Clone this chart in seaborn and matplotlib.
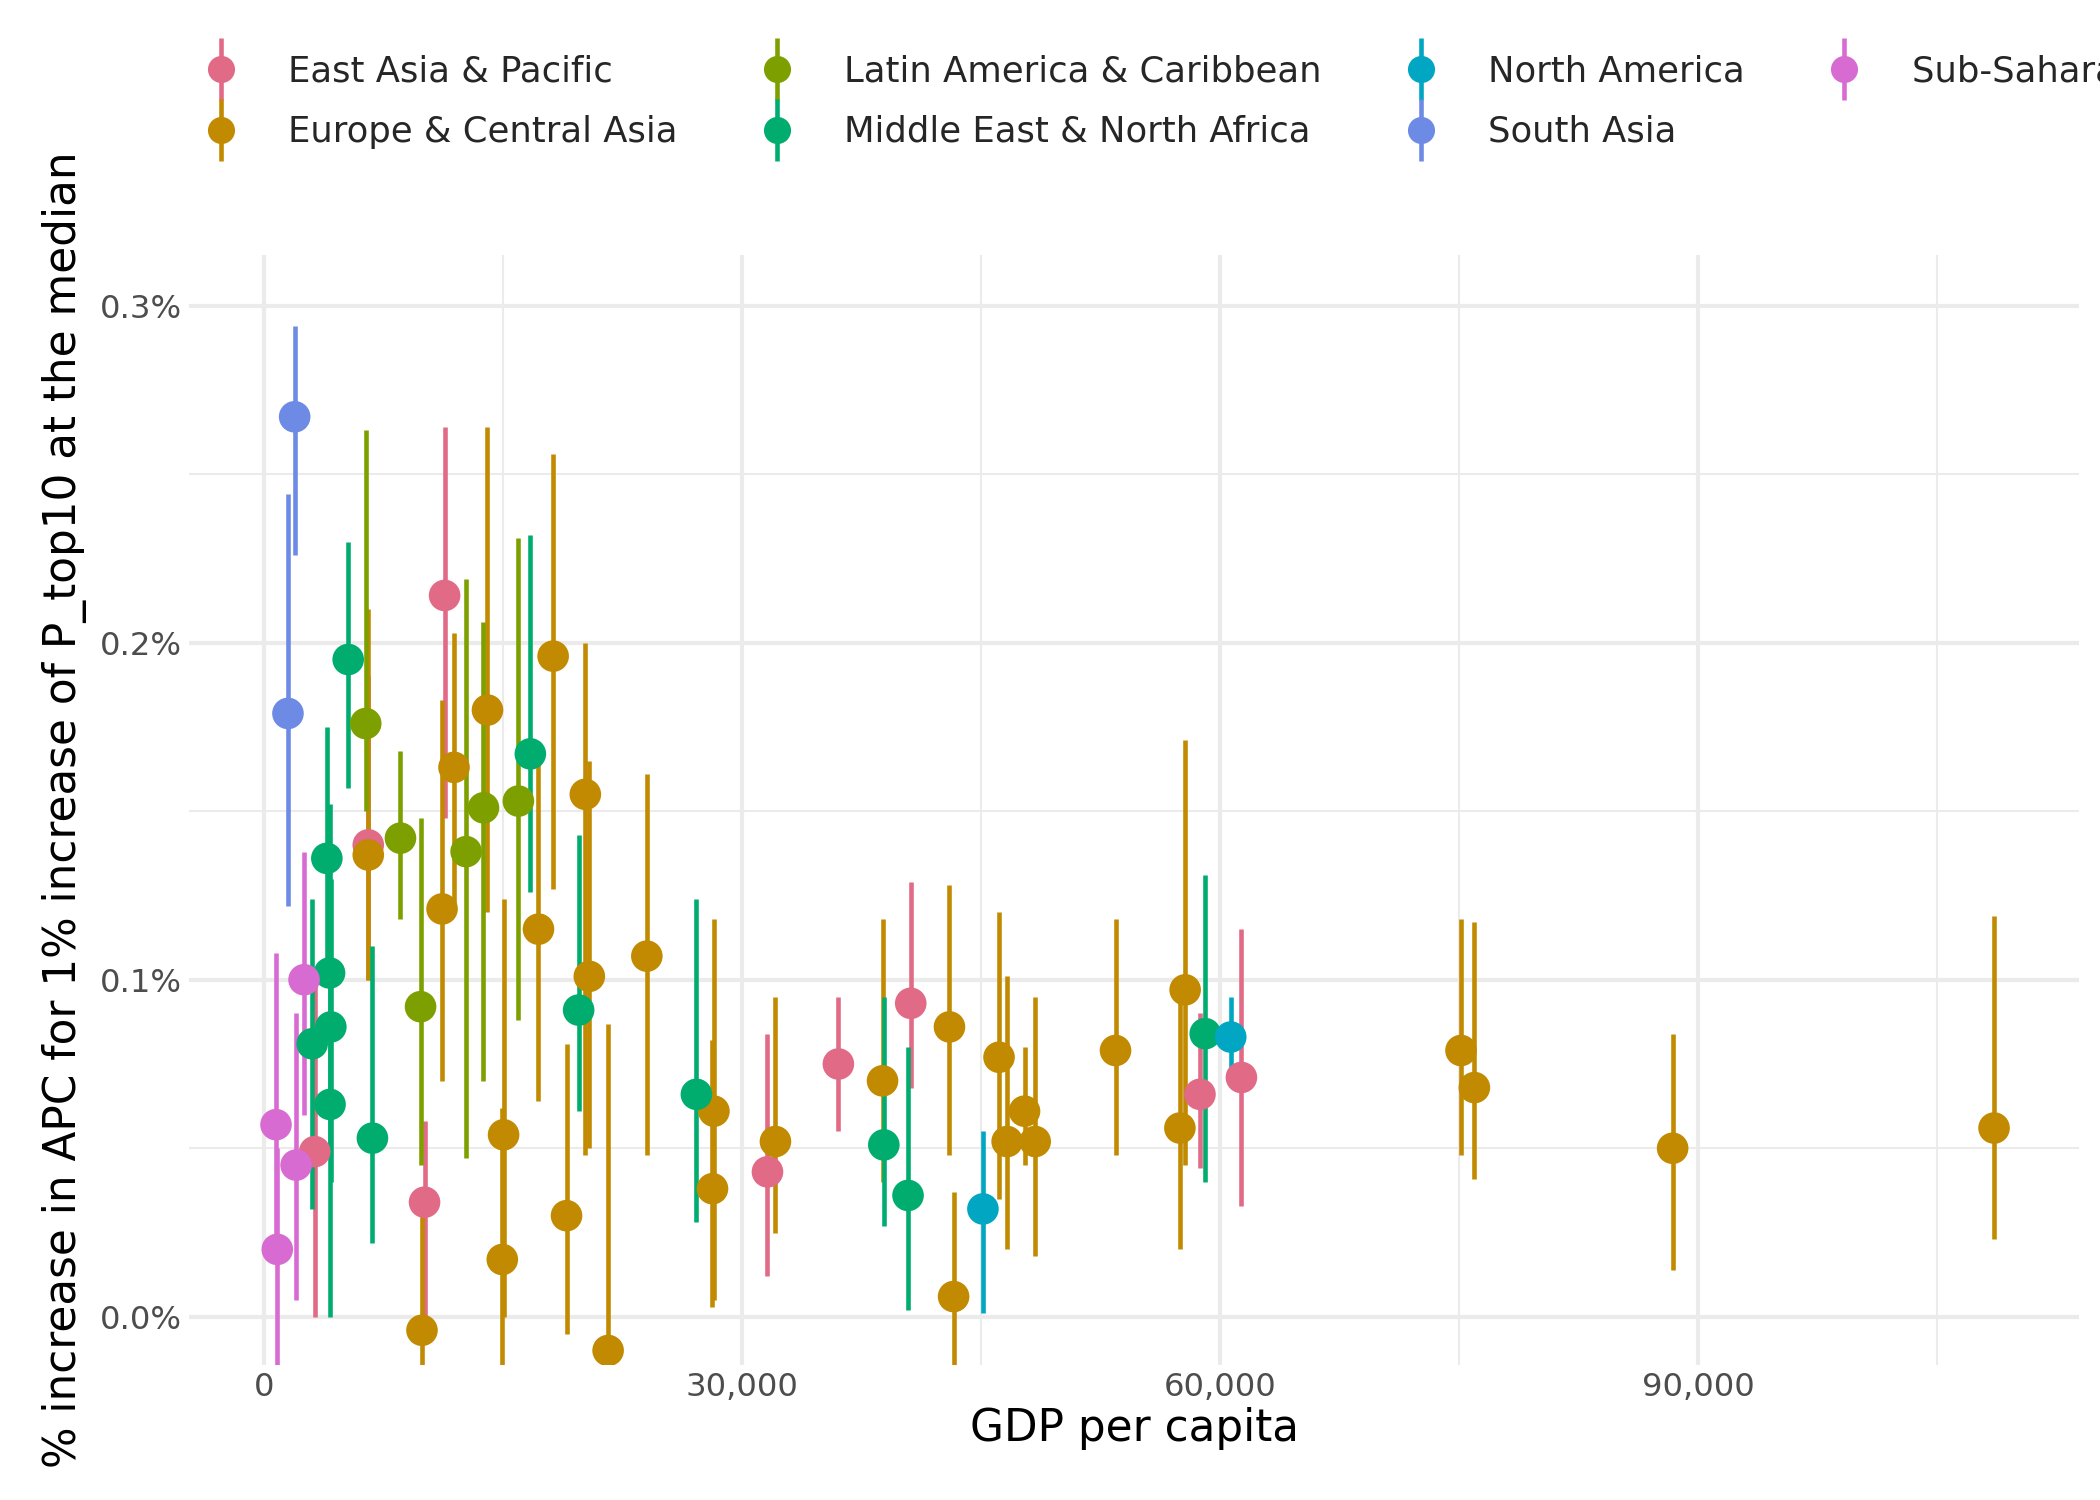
import numpy as np
import pandas as pd
import matplotlib
matplotlib.use("Agg")
import matplotlib.pyplot as plt
import seaborn as sns
from matplotlib.ticker import FuncFormatter, MultipleLocator

regions = ["East Asia & Pacific", "Europe & Central Asia", "Latin America & Caribbean",
           "Middle East & North Africa", "North America", "South Asia", "Sub-Saharan Africa"]
colors = ["#E16A86", "#C18A00", "#7DA000", "#00AD6F", "#00A6C2", "#6D8BE4", "#D86BD2"]

# (gdp, estimate %, upper %, lower %)
eap = [(11340, .214, .264, .148), (6550, .140, .190, .100), (3190, .049, .100, .000),
       (10080, .034, .058, .000), (31600, .043, .084, .012), (36050, .075, .095, .055),
       (40590, .093, .129, .068), (58740, .066, .090, .044), (61340, .071, .115, .033)]
eca = [(6550, .137, .210, .100), (9920, -.004, .030, -.015), (11180, .121, .183, .070),
       (11930, .163, .203, .120), (14030, .180, .264, .120), (14960, .017, .062, -.015),
       (15040, .054, .124, .000), (17230, .115, .165, .064), (18150, .196, .256, .127),
       (18990, .030, .081, -.005), (20170, .155, .200, .048), (20420, .101, .165, .050),
       (21600, -.010, .087, -.015), (24030, .107, .161, .048), (28150, .038, .082, .003),
       (28240, .061, .118, .005), (32100, .052, .095, .025), (38820, .070, .118, .040),
       (43020, .086, .128, .048), (43280, .006, .037, -.015), (46130, .077, .120, .035),
       (46640, .052, .101, .020), (47730, .061, .080, .045), (48400, .052, .095, .018),
       (53440, .079, .118, .048), (57480, .056, .098, .020), (57810, .097, .171, .045),
       (75120, .079, .118, .048), (75960, .068, .117, .041), (88400, .050, .084, .014),
       (108570, .056, .119, .023)]
lac = [(6390, .176, .263, .150), (8570, .142, .168, .118), (9830, .092, .148, .045),
       (12690, .138, .219, .047), (13780, .151, .206, .070), (15970, .153, .231, .088)]
mena = [(3030, .081, .124, .032), (3950, .136, .175, .100), (4120, .102, .152, .050),
        (4200, .086, .130, .040), (4150, .063, .100, .000), (5290, .195, .230, .157),
        (6810, .053, .110, .022), (16720, .167, .232, .126), (19750, .091, .143, .061),
        (27140, .066, .124, .028), (38900, .051, .095, .027), (40420, .036, .080, .002),
        (59070, .084, .131, .040)]
na = [(45120, .032, .055, .001), (60670, .083, .095, .070)]
sa = [(1930, .267, .294, .226), (1510, .179, .244, .122)]
ssa = [(760, .057, .108, .020), (840, .020, .050, -.015), (2020, .045, .090, .005),
       (2520, .100, .138, .060)]

rows = []
for reg, pts in zip(regions, [eap, eca, lac, mena, na, sa, ssa]):
    for g, e, hi, lo in pts:
        rows.append({"region": reg, "gdp": g, "est": e, "hi": hi, "lo": lo})
df = pd.DataFrame(rows)
palette = dict(zip(regions, colors))

sns.set_theme(style="whitegrid")
plt.rcParams["font.family"] = ["DejaVu Sans"]
fig = plt.figure(figsize=(14, 10), dpi=150)
ax = fig.add_axes([0.09, 0.09, 0.90, 0.74])

for reg in regions:
    d = df[df.region == reg]
    ax.vlines(d.gdp, d.lo, d.hi, color=palette[reg], lw=2.2, zorder=2)
sns.scatterplot(data=df, x="gdp", y="est", hue="region", hue_order=regions,
                palette=palette, s=230, edgecolor="none", ax=ax, zorder=3, legend=False)

ax.set_xlim(-4700, 113900)
ax.set_ylim(-0.0143, 0.315)
ax.xaxis.set_major_locator(MultipleLocator(30000))
ax.xaxis.set_minor_locator(MultipleLocator(15000))
ax.yaxis.set_major_locator(MultipleLocator(0.1))
ax.yaxis.set_minor_locator(MultipleLocator(0.05))
ax.xaxis.set_major_formatter(FuncFormatter(lambda v, p: f"{v:,.0f}"))
ax.yaxis.set_major_formatter(FuncFormatter(lambda v, p: f"{v:.1f}%"))
ax.grid(which="major", color="#EBEBEB", lw=2.0)
ax.grid(which="minor", color="#EBEBEB", lw=1.0)
for s in ax.spines.values():
    s.set_visible(False)
ax.tick_params(labelsize=15.5, colors="#4D4D4D", length=0)
ax.set_xlabel("GDP per capita", fontsize=21, color="black", labelpad=2)
ax.set_ylabel("% increase in APC for 1% increase of P_top10 at the median",
              fontsize=21, color="black", labelpad=6)

handles = [(plt.Line2D([0], [0], marker="|", color=c, markersize=30, mew=2.2, ls="none"),
            plt.Line2D([0], [0], marker="o", color=c, markersize=13, ls="none",
                       markeredgecolor="none")) for c in colors]
fig.legend(handles, regions, ncol=4, loc="upper left", bbox_to_anchor=(0.08, 0.985),
           frameon=False, fontsize=17, columnspacing=2.2, handlelength=1.2,
           handletextpad=1.3, labelspacing=0.75)

fig.savefig("out.png", dpi=150)
